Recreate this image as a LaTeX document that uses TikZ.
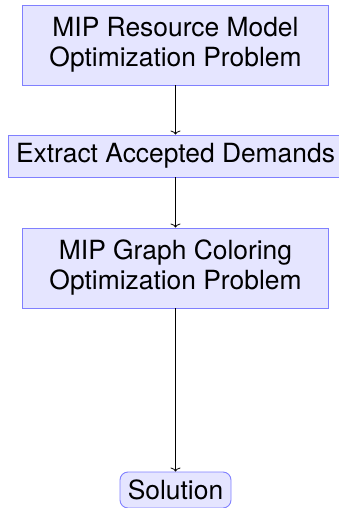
\documentclass[tikz,border=0pt]{standalone}
\usepackage{fontspec}
\setmainfont{TeX Gyre Heros}
\usetikzlibrary{arrows.meta}
\begin{document}
\begin{tikzpicture}[x=1pt,y=1pt,
  box/.style={draw=blue!50, fill=blue!10, line width=0.9pt, align=center,
    font=\fontsize{26.4}{30}\selectfont, inner sep=2pt},
  bigbox/.style={box, minimum width=306pt, minimum height=80pt},
  midbox/.style={box, minimum width=335pt, minimum height=42pt},
  endbox/.style={box, rounded corners=8pt, minimum width=111pt, minimum height=36pt},
  conn/.style={draw=black, line width=0.8pt, -{To[length=4pt,width=10pt]}}]
\useasboundingbox (0,0) rectangle (338,-508);
\node[bigbox] (a) at (175.5,-45) {MIP Resource Model\\Optimization Problem};
\node[midbox] (b) at (175.5,-156) {Extract Accepted Demands};
\node[bigbox] (c) at (175.5,-268) {MIP Graph Coloring\\Optimization Problem};
\node[endbox] (d) at (175.5,-490) {Solution};
\draw[conn] (a) -- (b);
\draw[conn] (b) -- (c);
\draw[conn] (c) -- (d);
\end{tikzpicture}
\end{document}
